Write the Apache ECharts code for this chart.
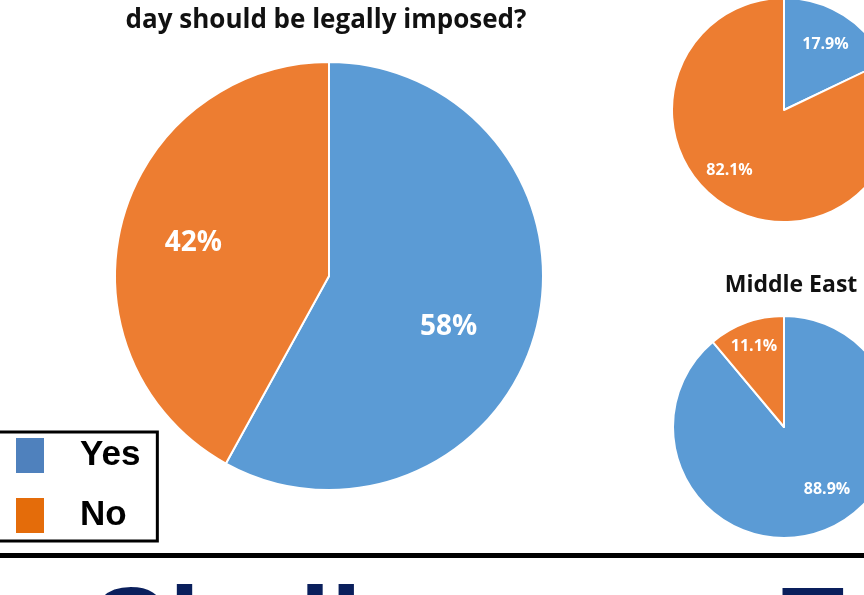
<!DOCTYPE html>
<html>
<head>
<meta charset="utf-8">
<style>
  html, body { margin: 0; padding: 0; background: #ffffff; }
  #chart { width: 864px; height: 595px; }
</style>
<script src="https://cdn.jsdelivr.net/npm/echarts@6/dist/echarts.min.js"></script>
</head>
<body>
<div id="chart"></div>
<script>
// Survey answers: share of respondents (%)
const categories = ['Yes', 'No'];
const overallValues = [58, 42];
const otherRegionValues = [17.9, 82.1];
const middleEastValues = [88.9, 11.1];

const questionLine = 'day should be legally imposed?';
const middleEastTitle = 'Middle East';
const footerWords = ['Challenges', 'Encountered'];

const sliceColors = { Yes: '#5B9BD5', No: '#ED7D31' };
const legendColors = { Yes: '#4F81BD', No: '#E46C0A' };

// Label nudges (px) that push each percentage outward from the slice midpoint
const labelNudge = {
  overall: { Yes: [13, 24], No: [-29, -6] },
  other: { Yes: [10, -16], No: [-23, 11] },
  middleEast: { Yes: [23, 7], No: [-10, -26] }
};

const labelFont = "'Open Sans', 'Noto Sans', sans-serif";

function pieSeries(key, values, center, radius, fontSize, decimals) {
  return {
    type: 'pie',
    center: center,
    radius: radius,
    startAngle: 90,
    clockwise: true,
    silent: true,
    emphasis: { disabled: true },
    itemStyle: { borderColor: '#ffffff', borderWidth: 2 },
    label: {
      show: true,
      position: 'inside',
      color: '#ffffff',
      fontFamily: labelFont,
      fontWeight: 'bold',
      fontSize: fontSize,
      formatter: p => p.value.toFixed(decimals) + '%'
    },
    labelLine: { show: false },
    data: categories.map((c, i) => ({
      name: c,
      value: values[i],
      itemStyle: { color: sliceColors[c] },
      label: { offset: labelNudge[key][c] }
    }))
  };
}

const chart = echarts.init(document.getElementById('chart'), null, { renderer: 'canvas' });

const footerFont = "bold 112px 'Liberation Sans', Arial, sans-serif";

chart.setOption({
  animation: false,
  backgroundColor: '#ffffff',
  title: [
    {
      text: questionLine,
      left: 321, top: 3, textAlign: 'center',
      textStyle: { fontFamily: labelFont, fontWeight: 'bold', fontSize: 26, color: '#111111' }
    },
    {
      text: middleEastTitle,
      left: 786, top: 269, textAlign: 'center',
      textStyle: { fontFamily: labelFont, fontWeight: 'bold', fontSize: 23, color: '#111111' }
    }
  ],
  legend: {
    orient: 'vertical',
    left: -4,
    top: 432,
    selectedMode: false,
    icon: 'rect',
    itemWidth: 28,
    itemHeight: 35,
    itemGap: 25,
    borderColor: '#000000',
    borderWidth: 3,
    padding: [6, 17, 8, 20],
    textStyle: {
      fontFamily: "'Liberation Sans', Arial, sans-serif",
      fontWeight: 'bold',
      fontSize: 35,
      color: '#000000',
      padding: [0, 0, 0, 31]
    },
    data: categories.map(c => ({
      name: c,
      itemStyle: { color: legendColors[c], borderWidth: 0 }
    }))
  },
  series: [
    pieSeries('overall', overallValues, [329, 276], 214, 28, 0),
    pieSeries('other', otherRegionValues, [784, 110], 112, 16, 1),
    pieSeries('middleEast', middleEastValues, [784, 427], 111, 16, 1)
  ],
  graphic: [
    // rule separating the chart from the heading below
    { type: 'rect', left: 0, top: 553, shape: { width: 864, height: 5 }, style: { fill: '#000000' }, silent: true },
    {
      type: 'text', x: 88, y: 578, silent: true,
      style: { text: footerWords[0], fill: '#0A1F5C', font: footerFont, verticalAlign: 'top' }
    },
    {
      type: 'text', x: 775, y: 578, silent: true,
      style: { text: footerWords[1], fill: '#0A1F5C', font: footerFont, verticalAlign: 'top' }
    }
  ]
});
</script>
</body>
</html>
